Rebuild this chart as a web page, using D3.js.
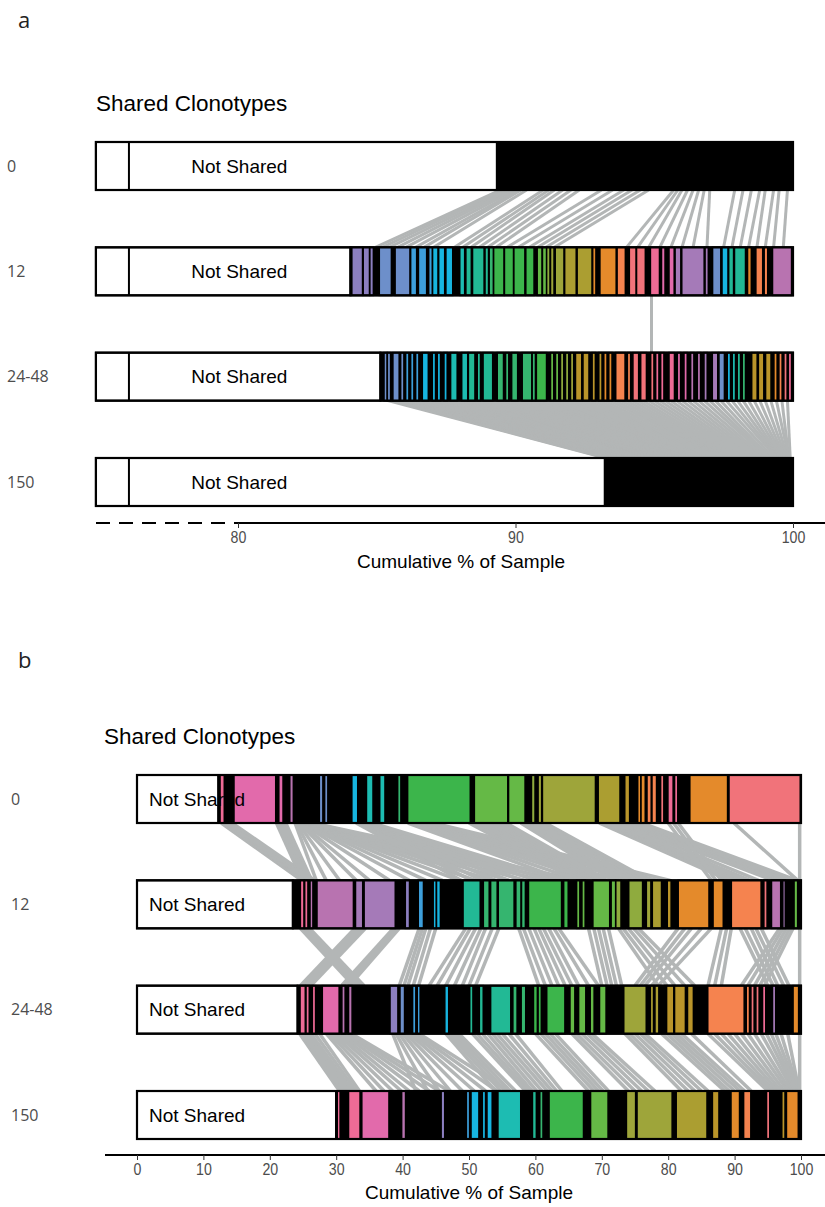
<!DOCTYPE html>
<html>
<head>
<meta charset="utf-8">
<script src="https://cdn.jsdelivr.net/npm/d3@7"></script>
<style>
  body { margin: 0; background: #fff; }
  svg { display: block; }
</style>
</head>
<body>
<svg id="chart" width="825" height="1207"></svg>
<script>
// ---------------- data ----------------
const timepoints = ["0", "12", "24-48", "150"];

// clonotype colour groups (index into palette)
const palette = [
  "#8c7fc0", "#6d8fca", "#3d9fdb", "#17b5e0", "#1dbcb2", "#22b995", "#35b56f",
  "#3cb54b", "#65b946", "#8fab3e", "#9ea53a", "#ab9e31", "#ba952a", "#e48a2b",
  "#f5834f", "#f1737a", "#ee6b96", "#e26aab", "#b873b0", "#a57ab8"
];

// ---- panel a (top 25% of each sample) ----
const ticksA = [80, 90, 100];
const notSharedA = [89.33, 84.05, 85.13, 93.22];   // cumulative % that is not shared
const breakA = 76.07;                               // axis break marker

// [start %, end %, colour group]
const segA0 = [];
const segA12 = [
  [84.10, 84.49, 0], [84.51, 84.74, 0], [84.75, 84.88, 0], [85.09, 85.53, 1], [85.66, 86.20, 1],
  [86.22, 86.44, 2], [86.50, 86.80, 2], [86.87, 87.01, 2], [87.01, 87.21, 3], [87.23, 87.45, 3],
  [87.49, 87.74, 3], [87.99, 88.17, 4], [88.21, 88.41, 5], [88.45, 88.87, 5], [88.90, 89.03, 5],
  [89.05, 89.21, 6], [89.21, 89.59, 7], [89.60, 89.93, 7], [89.94, 90.34, 7], [90.37, 90.67, 7],
  [90.78, 90.96, 8], [90.97, 91.13, 8], [91.12, 91.25, 9], [91.26, 91.39, 10], [91.43, 91.75, 10],
  [91.77, 92.19, 11], [92.22, 92.76, 11], [92.78, 92.90, 13], [93.04, 93.63, 13], [93.66, 93.96, 14],
  [94.10, 94.35, 15], [94.36, 94.68, 15], [94.86, 95.19, 16], [95.26, 95.39, 17], [95.53, 95.72, 17],
  [95.75, 95.96, 19], [95.99, 96.80, 19], [96.83, 96.95, 19], [97.10, 97.40, 1], [97.44, 97.66, 3],
  [97.68, 97.86, 5], [97.89, 98.29, 5], [98.36, 98.50, 13], [98.66, 98.91, 14], [98.96, 99.09, 14],
  [99.26, 99.95, 18]
];
const segA2448 = [
  [85.26, 85.38, 1], [85.38, 85.50, 1], [85.58, 85.81, 1], [85.86, 85.98, 1], [86.04, 86.16, 2],
  [86.22, 86.34, 2], [86.40, 86.52, 2], [86.64, 86.86, 3], [87.00, 87.12, 3], [87.18, 87.30, 3],
  [87.42, 87.54, 3], [87.66, 87.90, 4], [88.06, 88.28, 4], [88.30, 88.54, 5], [88.62, 88.74, 5],
  [88.83, 89.18, 5], [89.34, 89.57, 6], [89.64, 89.76, 6], [89.86, 90.08, 6], [90.24, 90.59, 6],
  [90.60, 90.72, 6], [90.75, 91.12, 7], [91.26, 91.38, 8], [91.44, 91.56, 8], [91.62, 91.74, 9],
  [91.80, 91.92, 9], [91.98, 92.10, 10], [92.16, 92.39, 12], [92.43, 92.65, 12], [92.76, 92.88, 12],
  [93.00, 93.12, 12], [93.18, 93.30, 13], [93.36, 93.48, 13], [93.61, 93.95, 14], [94.03, 94.15, 14],
  [94.23, 94.44, 15], [94.51, 94.72, 15], [94.87, 94.99, 15], [95.05, 95.17, 16], [95.23, 95.35, 16],
  [95.53, 95.73, 16], [95.83, 95.95, 17], [96.07, 96.19, 17], [96.31, 96.43, 18], [96.55, 96.67, 18],
  [96.79, 96.91, 19], [97.09, 97.29, 19], [97.33, 97.53, 1], [97.63, 97.75, 3], [97.81, 97.93, 4],
  [97.99, 98.11, 5], [98.17, 98.29, 6], [98.51, 98.71, 12], [98.75, 98.95, 12], [99.01, 99.21, 12],
  [99.31, 99.43, 13], [99.49, 99.61, 14], [99.67, 99.79, 15], [99.83, 99.95, 16]
];
const segA150 = [];

// links between consecutive samples: [% in upper sample, % in lower sample]
const linksA_0_12 = [
  [89.45, 84.95], [89.55, 85.2], [89.7, 85.45], [89.8, 85.75], [89.95, 86.05], [90.1, 86.4],
  [90.2, 86.7], [90.4, 87.05], [91.0, 87.8], [91.2, 88.1], [91.4, 88.4], [91.7, 88.7],
  [92.0, 89.0], [92.3, 89.3], [93.1, 89.7], [93.5, 90.1], [93.9, 90.5], [94.2, 90.8],
  [94.5, 91.1], [94.8, 91.4], [95.7, 94.0], [95.85, 94.4], [96.0, 94.8], [96.2, 95.2],
  [96.4, 95.6], [96.6, 96.0], [96.8, 96.4], [97.0, 96.9], [97.9, 97.5], [98.2, 97.8],
  [98.5, 98.1], [98.8, 98.4], [99.0, 98.7], [99.3, 99.0], [99.5, 99.3], [99.8, 99.65]
];
const linksA_12_2448 = [[94.9, 94.9]];
const linksA_2448_150 = [
  [85.4, 93.25], [85.55, 93.3], [85.7, 93.4], [85.9, 93.45], [86.05, 93.5], [86.2, 93.6],
  [86.3, 93.7], [86.45, 93.8], [86.6, 93.85], [86.8, 93.9], [86.95, 94.0], [87.1, 94.05],
  [87.2, 94.1], [87.35, 94.2], [87.5, 94.3], [87.7, 94.35], [87.85, 94.45], [88.0, 94.5],
  [88.1, 94.6], [88.25, 94.7], [88.4, 94.75], [88.55, 94.8], [88.7, 94.9], [88.85, 95.0],
  [89.0, 95.1], [89.2, 95.2], [89.4, 95.3], [89.6, 95.4], [89.8, 95.45], [90.0, 95.6],
  [90.2, 95.7], [90.4, 95.8], [90.6, 95.9], [90.8, 96.0], [91.0, 96.1], [91.2, 96.2],
  [91.4, 96.3], [91.6, 96.4], [91.8, 96.5], [92.0, 96.6], [92.2, 96.7], [92.4, 96.8],
  [92.6, 96.9], [92.8, 97.0], [93.0, 97.1], [93.2, 97.25], [93.4, 97.4], [93.6, 97.5],
  [93.8, 97.6], [94.0, 97.7], [94.2, 97.8], [94.4, 97.9], [94.6, 98.0], [94.8, 98.1],
  [95.0, 98.2], [95.2, 98.3], [95.4, 98.4], [95.6, 98.5], [95.8, 98.6], [96.0, 98.7],
  [96.2, 98.8], [96.4, 98.9], [96.6, 99.0], [96.8, 99.1], [97.0, 99.15], [97.2, 99.2],
  [97.4, 99.3], [97.6, 99.4], [97.8, 99.45], [98.0, 99.5], [98.2, 99.55], [98.4, 99.6],
  [98.6, 99.65], [98.8, 99.7], [99.0, 99.75], [99.2, 99.8], [99.4, 99.85], [99.6, 99.85],
  [99.8, 99.9]
];

// ---- panel b (whole sample) ----
const ticksB = [0, 10, 20, 30, 40, 50, 60, 70, 80, 90, 100];
const notSharedB = [12.25, 23.47, 24.18, 29.97];

const segB0 = [
  [12.5, 13.15, 16], [14.6, 20.9, 17], [21.35, 22.0, 17], [23.0, 23.55, 18], [27.45, 28.0, 1],
  [28.25, 28.75, 1], [32.35, 33.25, 3], [34.55, 35.55, 4], [36.55, 37.35, 4], [39.25, 39.75, 6],
  [40.75, 50.2, 7], [50.8, 55.85, 8], [55.95, 58.45, 8], [59.4, 59.95, 9], [60.4, 60.95, 10],
  [61.05, 69.05, 10], [69.45, 72.75, 11], [73.45, 74.2, 12], [75.4, 75.9, 13], [75.9, 76.55, 13],
  [76.8, 77.45, 14], [77.55, 78.25, 14], [78.85, 79.35, 15], [79.95, 80.75, 16], [80.95, 81.45, 16],
  [83.25, 88.95, 13], [89.15, 99.9, 15]
];
const segB12 = [
  [24.6, 25.15, 16], [25.25, 25.75, 16], [26.05, 26.5, 18], [27.1, 32.6, 18], [32.9, 34.0, 19],
  [34.2, 38.9, 19], [40.4, 41.05, 0], [42.35, 43.15, 2], [44.6, 45.1, 3], [45.1, 45.7, 3],
  [49.1, 51.7, 5], [52.15, 53.05, 6], [53.25, 54.25, 6], [54.4, 56.8, 6], [57.05, 57.85, 6],
  [57.9, 58.5, 6], [58.95, 63.95, 7], [64.25, 64.95, 7], [66.2, 66.7, 8], [67.0, 67.5, 8],
  [68.65, 71.2, 8], [71.4, 72.1, 8], [72.1, 72.9, 9], [74.05, 76.15, 9], [76.7, 77.4, 10],
  [77.6, 79.0, 11], [79.85, 80.45, 12], [81.5, 86.15, 13], [86.75, 88.3, 13], [89.5, 94.0, 14],
  [94.4, 94.9, 15], [95.55, 96.95, 18], [97.25, 97.65, 19], [98.95, 99.5, 8]
];
const segB2448 = [
  [24.55, 25.35, 16], [25.45, 25.95, 16], [26.4, 26.9, 16], [27.9, 30.45, 17], [30.85, 31.35, 18],
  [31.85, 32.4, 18], [38.1, 39.3, 0], [39.6, 40.3, 1], [41.5, 42.0, 2], [42.2, 42.65, 2],
  [46.35, 46.95, 3], [50.1, 50.6, 5], [51.55, 52.15, 5], [53.25, 56.3, 5], [56.6, 57.25, 6],
  [57.85, 58.55, 6], [59.7, 60.3, 7], [60.4, 60.9, 7], [61.7, 64.45, 7], [65.2, 65.95, 8],
  [66.5, 67.6, 8], [68.25, 68.85, 8], [69.65, 70.65, 8], [73.3, 76.7, 10], [77.3, 77.8, 11],
  [78.0, 78.6, 11], [79.75, 80.85, 12], [80.95, 82.6, 12], [82.9, 83.8, 12], [85.95, 91.45, 14],
  [91.75, 92.25, 14], [92.45, 92.95, 15], [93.2, 93.7, 15], [94.2, 94.7, 16], [95.7, 96.2, 19],
  [98.8, 99.65, 13]
];
const segB150 = [
  [30.15, 30.6, 16], [31.85, 33.6, 16], [33.85, 37.95, 17], [39.85, 40.45, 18], [45.8, 46.35, 0],
  [49.6, 50.1, 2], [50.3, 51.5, 3], [52.0, 52.5, 3], [52.7, 53.5, 3], [54.35, 57.8, 4],
  [59.55, 60.15, 5], [60.65, 61.15, 6], [62.05, 67.25, 7], [68.3, 70.95, 8], [73.7, 75.1, 10],
  [75.3, 80.6, 10], [81.2, 85.85, 11], [86.65, 87.65, 12], [89.45, 90.75, 13], [91.35, 92.45, 14],
  [94.8, 95.3, 15], [97.1, 97.6, 12], [97.8, 99.6, 13]
];

const linksB_0_12 = [
  [12.7, 24.8], [13.0, 25.1], [13.2, 25.4], [13.5, 25.7], [13.8, 26.0], [14.3, 26.8],
  [21.0, 24.9], [21.3, 25.2], [21.7, 25.6], [22.0, 25.9], [22.4, 26.3],
  [23.8, 27.0], [24.0, 28.5], [24.2, 30.5], [24.4, 33.0], [24.6, 35.0], [24.8, 38.0],
  [25.0, 41.0], [25.15, 43.5], [25.3, 46.0], [25.45, 48.5], [25.6, 51.0], [25.75, 53.5],
  [25.9, 56.0], [26.05, 58.5], [26.2, 61.0], [26.3, 63.5], [26.4, 66.5],
  [33.0, 48.8], [33.3, 50.4], [33.6, 52.0], [33.9, 54.0], [34.2, 56.0], [34.5, 58.0],
  [34.8, 60.0], [35.1, 62.0], [35.4, 64.0],
  [40.8, 64.5], [41.3, 66.5], [41.8, 68.5], [42.3, 70.5], [42.8, 72.5], [43.2, 74.5],
  [43.7, 76.5], [44.2, 78.4], [44.6, 80.3],
  [50.0, 66.2], [50.8, 66.8], [51.5, 67.4], [52.3, 68.0], [53.0, 68.6], [53.7, 69.1],
  [54.4, 69.6], [55.0, 70.1], [55.6, 70.7],
  [57.8, 71.8], [58.4, 72.6], [59.0, 73.5], [59.6, 74.5], [60.2, 75.5], [60.9, 76.4],
  [61.5, 77.2],
  [69.6, 89.2], [70.2, 90.0], [70.7, 90.8], [71.2, 91.6], [71.7, 92.3], [72.6, 93.6],
  [73.0, 95.8], [73.6, 96.5], [74.2, 97.2], [74.8, 97.9], [75.3, 98.5], [76.0, 99.4],
  [80.0, 86.5], [80.8, 87.2], [81.5, 88.0], [89.9, 99.5], [99.8, 99.8]
];
const linksB_12_2448 = [
  [24.6, 32.6], [25.0, 33.0], [25.3, 33.4], [25.7, 33.8], [26.0, 34.2],
  [32.8, 24.6], [33.2, 25.0], [33.6, 25.4], [34.0, 25.8], [34.4, 26.2],
  [38.6, 30.8], [38.8, 31.1], [39.0, 31.4], [39.3, 31.7], [39.5, 32.0],
  [42.5, 39.5], [43.0, 40.2], [43.5, 40.8], [44.2, 41.6], [45.0, 42.4],
  [49.5, 44.0], [50.2, 45.2], [51.0, 46.5], [51.8, 47.8], [52.5, 49.0], [53.5, 50.0],
  [54.5, 51.0],
  [57.5, 60.5], [58.2, 61.5], [59.0, 62.5], [59.8, 63.5], [60.5, 64.5], [61.2, 65.5],
  [62.0, 66.5], [62.8, 68.0], [63.5, 69.5],
  [68.0, 70.0], [68.8, 70.8], [69.5, 71.5], [70.2, 72.2], [71.0, 73.0],
  [72.5, 78.5], [73.2, 79.8], [74.0, 81.0], [74.8, 82.5], [75.5, 84.0],
  [81.5, 75.0], [82.5, 75.8], [83.5, 76.5], [85.0, 77.5], [86.5, 78.5],
  [88.0, 86.0], [88.8, 87.0], [89.5, 88.0],
  [90.8, 95.0], [91.6, 95.8], [92.5, 96.5], [93.2, 97.4], [94.0, 98.2],
  [96.8, 91.0], [97.3, 92.0], [97.8, 93.0], [98.3, 93.8], [98.8, 94.5],
  [99.8, 99.8]
];
const linksB_2448_150 = [
  [24.5, 30.5], [24.9, 31.0], [25.3, 31.5], [25.8, 32.0], [26.2, 32.5], [26.8, 33.0],
  [27.5, 33.5],
  [28.5, 36.0], [29.0, 37.2], [29.5, 38.5], [30.0, 39.8], [30.5, 41.0], [31.0, 42.5],
  [31.5, 44.0], [31.9, 45.5], [32.3, 47.0],
  [38.5, 42.0], [39.0, 43.8], [39.5, 45.5], [40.0, 47.2], [40.5, 49.0], [41.0, 50.8],
  [41.5, 52.5], [42.0, 54.2], [42.5, 56.0],
  [46.5, 54.0], [47.0, 54.8], [47.5, 55.5], [48.0, 56.2], [48.5, 57.0],
  [50.5, 58.5], [51.2, 59.0], [52.0, 59.5], [52.8, 60.2], [53.5, 61.0], [54.2, 61.8],
  [55.0, 62.5], [56.0, 63.2], [57.0, 64.0],
  [60.0, 68.0], [60.8, 68.8], [61.5, 69.5], [62.2, 70.2], [63.0, 71.0],
  [65.5, 74.0], [66.2, 75.0], [67.0, 76.0], [67.8, 77.0], [68.5, 78.0],
  [73.5, 82.0], [74.2, 83.0], [75.0, 84.0], [75.8, 85.0], [76.5, 86.0],
  [79.0, 88.5], [79.8, 89.2], [80.5, 90.0], [81.2, 90.8], [82.0, 91.5], [83.5, 92.5],
  [86.0, 95.0], [87.0, 95.5], [88.0, 96.0], [89.0, 96.5], [90.0, 97.0], [91.0, 97.5],
  [92.0, 98.0], [93.0, 98.4],
  [94.0, 98.8], [94.8, 99.1], [95.5, 99.3], [96.2, 99.5], [97.0, 99.6], [98.0, 99.7],
  [99.8, 99.8]
];

// ---------------- drawing ----------------
const svg = d3.select("#chart");
const BAR_H = 48;
const LINK_COLOR = "#b3b6b6";
const LABEL_GREY = "#4d4d4d";
const SANS = "'Liberation Sans', Arial, sans-serif";

function drawPanel(cfg) {
  const g = svg.append("g");
  const x = cfg.x, y = cfg.y;

  // panel letter and title
  g.append("text").attr("x", 18).attr("y", cfg.letterY)
    .attr("font-family", "'Open Sans', 'Noto Sans', sans-serif").attr("font-size", 22)
    .attr("fill", "#222").text(cfg.letter);
  g.append("text").attr("x", cfg.titleX).attr("y", cfg.titleY)
    .attr("font-family", SANS).attr("font-size", 22.5)
    .attr("fill", "#000").text("Shared Clonotypes");

  // links between consecutive samples
  cfg.links.forEach((set, i) => {
    const y0 = y(timepoints[i]) + BAR_H / 2;
    const y1 = y(timepoints[i + 1]) - BAR_H / 2;
    g.append("g").selectAll("line").data(set).join("line")
      .attr("x1", d => x(d[0])).attr("y1", y0)
      .attr("x2", d => x(d[1])).attr("y2", y1)
      .attr("stroke", LINK_COLOR).attr("stroke-width", cfg.linkWidth);
  });

  // stacked bars
  timepoints.forEach((tp, i) => {
    const row = g.append("g");
    const top = y(tp) - BAR_H / 2;
    const ns = cfg.notShared[i];
    // not shared part
    row.append("rect")
      .attr("x", x(cfg.barStart)).attr("y", top)
      .attr("width", x(ns) - x(cfg.barStart)).attr("height", BAR_H)
      .attr("fill", "#fff").attr("stroke", "#000").attr("stroke-width", 2);
    if (cfg.breakAt != null) {
      row.append("line")
        .attr("x1", x(cfg.breakAt)).attr("x2", x(cfg.breakAt))
        .attr("y1", top).attr("y2", top + BAR_H)
        .attr("stroke", "#000").attr("stroke-width", 2);
    }
    // shared part: densely packed small clonotypes
    row.append("rect")
      .attr("x", x(ns)).attr("y", top)
      .attr("width", x(100) - x(ns)).attr("height", BAR_H)
      .attr("fill", "#000").attr("stroke", "#000").attr("stroke-width", 2);
    row.selectAll("rect.seg").data(cfg.segments[i]).join("rect")
      .attr("class", "seg")
      .attr("x", d => x(d[0])).attr("y", top)
      .attr("width", d => x(d[1]) - x(d[0])).attr("height", BAR_H)
      .attr("fill", d => palette[d[2]])
      .attr("stroke", "#000").attr("stroke-width", 1.6);
    // frame
    row.append("rect")
      .attr("x", x(cfg.barStart)).attr("y", top)
      .attr("width", x(100) - x(cfg.barStart)).attr("height", BAR_H)
      .attr("fill", "none").attr("stroke", "#000").attr("stroke-width", 2.2);
    // not shared label
    row.append("text")
      .attr("x", x(cfg.nsLabelAt)).attr("y", y(tp)).attr("dy", "0.35em")
      .attr("text-anchor", "middle")
      .attr("font-family", SANS).attr("font-size", 19)
      .attr("fill", "#000").text("Not Shared");
    // sample label
    g.append("text")
      .attr("x", cfg.rowLabelX).attr("y", y(tp)).attr("dy", "0.35em")
      .attr("font-family", "'Open Sans', 'Noto Sans', sans-serif").attr("font-size", 16)
      .attr("fill", LABEL_GREY).text(tp);
  });

  // x axis
  const axY = cfg.axisY;
  g.append("line").attr("x1", cfg.axisSolidFrom).attr("x2", 825)
    .attr("y1", axY).attr("y2", axY).attr("stroke", "#000").attr("stroke-width", 2);
  if (cfg.axisDashFrom != null) {
    g.append("line").attr("x1", cfg.axisDashFrom).attr("x2", cfg.axisSolidFrom)
      .attr("y1", axY).attr("y2", axY).attr("stroke", "#000").attr("stroke-width", 2)
      .attr("stroke-dasharray", "14,9");
  }
  const axis = d3.axisBottom(x).tickValues(cfg.ticks).tickSize(5).tickPadding(3)
    .tickFormat(d3.format("d"));
  const ax = g.append("g").attr("transform", `translate(0,${axY})`).call(axis);
  ax.select(".domain").remove();
  ax.selectAll(".tick line").attr("stroke", "#333").attr("stroke-width", 1);
  ax.selectAll(".tick text")
    .attr("font-family", SANS)
    .attr("font-size", 16.5).attr("fill", LABEL_GREY)
    .attr("transform", "scale(0.86,1)");
  g.append("text").attr("x", cfg.axisTitleX).attr("y", cfg.axisTitleY)
    .attr("text-anchor", "middle")
    .attr("font-family", SANS).attr("font-size", 19)
    .attr("fill", "#000").text("Cumulative % of Sample");
}

drawPanel({
  letter: "a", letterY: 28, titleX: 96, titleY: 111,
  x: d3.scaleLinear().domain([80, 100]).range([238, 793]),
  y: d3.scalePoint().domain(timepoints).range([166, 482]),
  barStart: 74.88, breakAt: breakA, nsLabelAt: 80.05, rowLabelX: 7,
  notShared: notSharedA,
  segments: [segA0, segA12, segA2448, segA150],
  links: [linksA_0_12, linksA_12_2448, linksA_2448_150], linkWidth: 3,
  ticks: ticksA, axisY: 523, axisSolidFrom: 238, axisDashFrom: 96,
  axisTitleX: 461, axisTitleY: 568
});

drawPanel({
  letter: "b", letterY: 668, titleX: 104, titleY: 744,
  x: d3.scaleLinear().domain([0, 100]).range([137, 801]),
  y: d3.scalePoint().domain(timepoints).range([799, 1115]),
  barStart: 0, breakAt: null, nsLabelAt: 9.05, rowLabelX: 11,
  notShared: notSharedB,
  segments: [segB0, segB12, segB2448, segB150],
  links: [linksB_0_12, linksB_12_2448, linksB_2448_150], linkWidth: 3.5,
  ticks: ticksB, axisY: 1155, axisSolidFrom: 105, axisDashFrom: null,
  axisTitleX: 469, axisTitleY: 1199
});
</script>
</body>
</html>
